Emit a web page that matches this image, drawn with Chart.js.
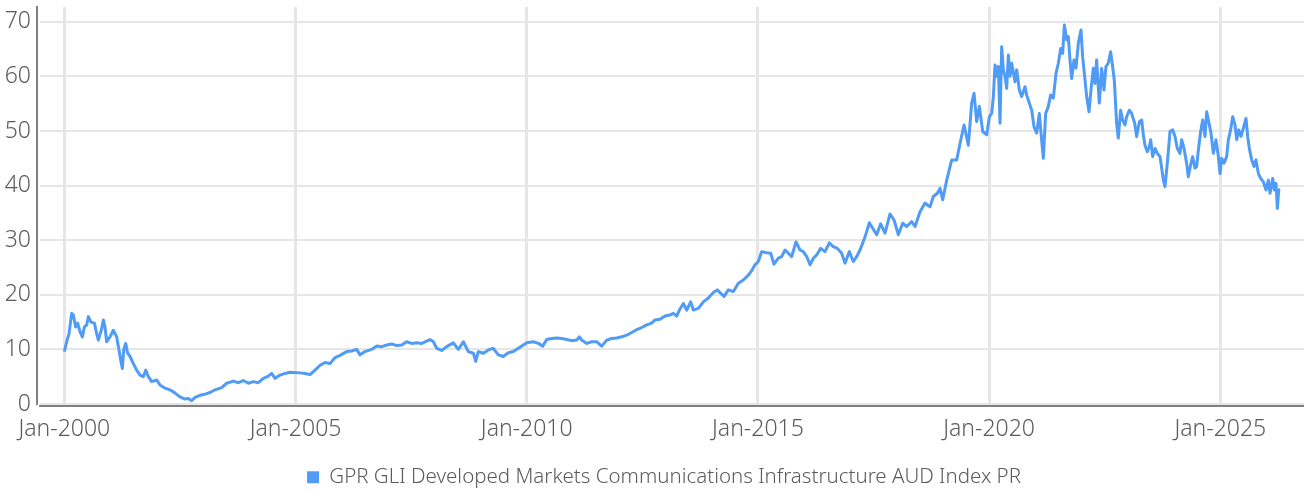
<!DOCTYPE html>
<html>
<head>
<meta charset="utf-8">
<script src="https://cdn.jsdelivr.net/npm/chart.js@4/dist/chart.umd.min.js"></script>
<style>
  html, body { margin: 0; padding: 0; background: #ffffff; }
  #wrap { width: 1304px; height: 491px; }
</style>
</head>
<body>
<div id="wrap"><canvas id="myChart"></canvas></div>
<script>
const seriesName = 'GPR GLI Developed Markets Communications Infrastructure AUD Index PR';

// decimal years and index levels
const years = [
    2000.000, 2000.051, 2000.102, 2000.159, 2000.195, 2000.246, 2000.289, 2000.340, 2000.390, 2000.433,
    2000.484, 2000.520, 2000.577, 2000.650, 2000.700, 2000.736, 2000.808, 2000.844, 2000.880, 2000.916,
    2000.988, 2001.060, 2001.132, 2001.183, 2001.226, 2001.255, 2001.284, 2001.327, 2001.370, 2001.421,
    2001.493, 2001.565, 2001.637, 2001.709, 2001.760, 2001.817, 2001.889, 2001.997, 2002.069, 2002.178,
    2002.286, 2002.394, 2002.502, 2002.610, 2002.682, 2002.754, 2002.826, 2002.935, 2003.043, 2003.151,
    2003.259, 2003.403, 2003.511, 2003.655, 2003.764, 2003.872, 2003.980, 2004.088, 2004.196, 2004.304,
    2004.412, 2004.485, 2004.557, 2004.665, 2004.773, 2004.881,
    2005.097, 2005.205, 2005.314, 2005.422, 2005.530, 2005.638, 2005.746, 2005.855, 2005.963, 2006.107,
    2006.215, 2006.323, 2006.395, 2006.503, 2006.647, 2006.755, 2006.864, 2006.972, 2007.080, 2007.188,
    2007.296, 2007.404, 2007.512, 2007.620, 2007.729, 2007.837, 2007.909, 2007.981, 2008.053, 2008.161,
    2008.269, 2008.413, 2008.521, 2008.630, 2008.738, 2008.846, 2008.896, 2008.954, 2009.062, 2009.170,
    2009.278, 2009.386, 2009.494, 2009.603, 2009.711, 2009.819, 2009.927,
    2010.000, 2010.144, 2010.252, 2010.346, 2010.432, 2010.540, 2010.648, 2010.757, 2010.865, 2010.973,
    2011.081, 2011.138, 2011.189, 2011.297, 2011.405, 2011.513, 2011.622, 2011.730, 2011.838, 2011.946,
    2012.054, 2012.162, 2012.270, 2012.378, 2012.487, 2012.595, 2012.703, 2012.775, 2012.883, 2012.991,
    2013.099, 2013.172, 2013.244, 2013.301, 2013.388, 2013.460, 2013.546, 2013.604, 2013.712, 2013.820,
    2013.929, 2014.037, 2014.123, 2014.181, 2014.268, 2014.361, 2014.469, 2014.577, 2014.685, 2014.793,
    2014.865, 2014.937,
    2015.009, 2015.081, 2015.189, 2015.276, 2015.348, 2015.442, 2015.514, 2015.586, 2015.658, 2015.730,
    2015.824, 2015.910, 2015.982, 2016.055, 2016.127, 2016.199, 2016.271, 2016.357, 2016.451, 2016.545,
    2016.631, 2016.718, 2016.811, 2016.883, 2016.977, 2017.064, 2017.136, 2017.208, 2017.317, 2017.410,
    2017.482, 2017.569, 2017.655, 2017.749, 2017.857, 2017.944, 2018.037, 2018.131, 2018.218, 2018.326,
    2018.398, 2018.506, 2018.614, 2018.722, 2018.794, 2018.881, 2018.939, 2018.996, 2019.083, 2019.191,
    2019.299, 2019.371, 2019.458, 2019.551, 2019.623, 2019.674, 2019.731, 2019.789, 2019.861, 2019.948,
    2020.005, 2020.056, 2020.092, 2020.128, 2020.164, 2020.200, 2020.236, 2020.272, 2020.308, 2020.344,
    2020.380, 2020.416, 2020.452, 2020.488, 2020.560, 2020.596, 2020.654, 2020.704, 2020.776, 2020.812,
    2020.870, 2020.921, 2020.971, 2021.029, 2021.086, 2021.122, 2021.173, 2021.223, 2021.281, 2021.331,
    2021.389, 2021.447, 2021.497, 2021.548, 2021.591, 2021.627, 2021.677, 2021.713, 2021.749, 2021.785,
    2021.836, 2021.879, 2021.930, 2021.987, 2022.023, 2022.059, 2022.110, 2022.160, 2022.203, 2022.254,
    2022.290, 2022.326, 2022.383, 2022.434, 2022.484, 2022.527, 2022.578, 2022.628, 2022.671, 2022.707,
    2022.758, 2022.794, 2022.844, 2022.887, 2022.938, 2022.974, 2023.032, 2023.082,
    2023.148, 2023.191, 2023.249, 2023.299, 2023.335, 2023.371, 2023.422, 2023.465, 2023.494, 2023.537,
    2023.588, 2023.638, 2023.696, 2023.732, 2023.768, 2023.804, 2023.840, 2023.876, 2023.912, 2023.970,
    2024.020, 2024.071, 2024.128, 2024.164, 2024.215, 2024.272, 2024.308, 2024.359, 2024.402, 2024.453,
    2024.489, 2024.525, 2024.575, 2024.619, 2024.669, 2024.705, 2024.756, 2024.799, 2024.849, 2024.907,
    2024.958, 2024.994, 2025.030, 2025.080, 2025.138, 2025.174, 2025.224, 2025.268, 2025.318, 2025.354,
    2025.398, 2025.448, 2025.498, 2025.556, 2025.592, 2025.628, 2025.679, 2025.729, 2025.772, 2025.823,
    2025.873, 2025.931, 2025.989, 2026.039, 2026.075, 2026.133, 2026.169, 2026.205, 2026.234, 2026.263,
    2026.292
];

const values = [
    9.6, 11.4, 12.9, 16.6, 16.3, 14.1, 14.8, 13.2, 12.3, 14.1,
    14.5, 16.0, 15.0, 14.8, 12.9, 11.7, 13.8, 15.4, 14.1, 11.4,
    12.3, 13.5, 12.3, 9.9, 7.7, 6.5, 9.9, 11.1, 9.3, 8.7,
    7.4, 6.2, 5.3, 5.0, 6.2, 5.0, 4.1, 4.4, 3.5, 2.9,
    2.6, 2.0, 1.3, 0.9, 1.0, 0.6, 1.2, 1.6, 1.8, 2.1,
    2.6, 3.0, 3.8, 4.2, 3.9, 4.3, 3.8, 4.1, 3.9, 4.7,
    5.1, 5.6, 4.7, 5.3, 5.6, 5.8,
    5.7, 5.6, 5.4, 6.2, 7.1, 7.6, 7.4, 8.5, 8.9, 9.6,
    9.7, 10.0, 9.0, 9.6, 10.0, 10.6, 10.5, 10.8, 11.0, 10.7,
    10.8, 11.4, 11.1, 11.2, 11.1, 11.5, 11.8, 11.4, 10.2, 9.8,
    10.5, 11.2, 10.0, 11.4, 9.6, 9.3, 7.8, 9.6, 9.3, 9.9,
    10.2, 9.0, 8.7, 9.4, 9.6, 10.2, 10.8,
    11.2, 11.4, 11.1, 10.6, 11.8, 12.0, 12.1, 12.0, 11.8, 11.6,
    11.7, 12.3, 11.7, 11.1, 11.4, 11.4, 10.6, 11.7, 12.0, 12.1,
    12.3, 12.6, 13.1, 13.6, 14.0, 14.5, 14.8, 15.4, 15.5, 16.1,
    16.3, 16.6, 16.1, 17.2, 18.4, 17.2, 18.7, 17.2, 17.5, 18.7,
    19.4, 20.4, 20.9, 20.4, 19.7, 20.9, 20.6, 22.1, 22.7, 23.6,
    24.4, 25.5,
    26.1, 27.9, 27.7, 27.6, 25.6, 26.7, 27.0, 28.2, 27.6, 27.0,
    29.7, 28.2, 27.9, 27.0, 25.5, 26.7, 27.3, 28.5, 27.9, 29.5,
    28.8, 28.5, 27.6, 25.8, 27.9, 26.1, 27.0, 28.2, 30.6, 33.2,
    32.2, 31.0, 33.0, 31.3, 34.8, 33.7, 31.0, 33.1, 32.5, 33.4,
    32.5, 35.2, 36.8, 36.1, 38.0, 38.6, 39.5, 37.4, 41.0, 44.7,
    44.7, 47.7, 51.1, 47.4, 55.1, 56.9, 51.7, 54.5, 49.9, 49.3,
    52.6, 53.2, 56.3, 62.1, 60.0, 61.8, 51.4, 65.4, 61.2, 60.0,
    57.8, 63.9, 60.0, 62.4, 59.0, 61.2, 57.5, 56.3, 58.1, 56.6,
    55.1, 53.8, 50.8, 49.6, 53.2, 49.6, 45.0, 53.2, 54.5, 56.6,
    56.0, 60.6, 62.4, 65.1, 64.2, 69.4, 66.7, 67.3, 63.0, 59.6,
    63.0, 61.5, 66.1, 68.5, 63.6, 60.6, 56.3, 53.5, 57.5, 61.5,
    58.7, 63.0, 55.1, 61.5, 57.5, 61.8, 62.4, 64.5, 61.8, 59.3,
    51.4, 48.7, 53.8, 52.0, 51.1, 52.6, 53.8, 53.2,
    51.4, 49.0, 51.7, 52.0, 49.3, 47.4, 46.2, 47.1, 48.4, 45.3,
    46.8, 45.9, 45.3, 43.2, 41.0, 39.8, 42.9, 46.2, 49.9, 50.2,
    49.0, 46.8, 45.9, 48.4, 46.8, 44.1, 41.6, 43.8, 45.3, 43.2,
    43.5, 46.5, 49.9, 52.0, 49.0, 53.5, 51.4, 49.6, 45.9, 48.4,
    45.3, 42.2, 45.0, 44.1, 45.3, 48.4, 50.2, 52.6, 51.1, 48.4,
    50.2, 49.0, 50.5, 52.3, 49.0, 46.8, 44.7, 43.5, 44.7, 42.2,
    41.3, 40.7, 39.2, 41.0, 38.6, 41.3, 39.2, 40.4, 35.8, 39.2,
    39.3
];

const xTickYears = [2000, 2005, 2010, 2015, 2020, 2025];
const xTickLabels = ['Jan-2000', 'Jan-2005', 'Jan-2010', 'Jan-2015', 'Jan-2020', 'Jan-2025'];
const yTicks = [0, 10, 20, 30, 40, 50, 60, 70];

const fontFamily = "'Noto Sans', 'DejaVu Sans', sans-serif";
const tickFont = { family: fontFamily, size: 23, weight: '300' };
const legendFont = { family: fontFamily, size: 20.5, weight: '300' };
const textGrey = '#5b5b5b';
const lineBlue = '#4f9bf6';

// axis lines sit a little off the plot edges, like the original
const axisLines = {
    id: 'axisLines',
    afterLayout(chart) {
        // legend sits a bit left of the plot centre in the original
        chart.legend.left -= 8;
        chart.legend.right -= 8;
    },
    afterDraw(chart) {
        const ctx = chart.ctx;
        const a = chart.chartArea;
        ctx.save();
        ctx.strokeStyle = '#808080';
        ctx.lineWidth = 2;
        ctx.beginPath();
        ctx.moveTo(a.left - 3, a.top - 1);
        ctx.lineTo(a.left - 3, a.bottom + 1);
        ctx.moveTo(a.left - 1, a.bottom + 2);
        ctx.lineTo(a.right, a.bottom + 2);
        ctx.stroke();
        ctx.restore();
    }
};

const data = {
    datasets: [{
        label: seriesName,
        data: years.map((t, i) => ({ x: t, y: values[i] })),
        borderColor: lineBlue,
        backgroundColor: lineBlue,
        borderWidth: 3,
        pointRadius: 0,
        tension: 0,
        borderJoinStyle: 'round'
    }]
};

const config = {
    type: 'line',
    data: data,
    plugins: [axisLines],
    options: {
        responsive: true,
        maintainAspectRatio: false,
        animation: false,
        layout: {
            padding: { top: 7, right: 0, bottom: 0, left: 0 }
        },
        plugins: {
            tooltip: { enabled: false },
            legend: {
                position: 'bottom',
                fullSize: false,
                maxHeight: 24,
                labels: {
                    color: textGrey,
                    font: legendFont,
                    boxWidth: 12,
                    boxHeight: 12,
                    padding: 0,
                    generateLabels: chart => Chart.defaults.plugins.legend.labels.generateLabels(chart)
                        .map(l => Object.assign(l, { lineWidth: 0 }))
                }
            }
        },
        scales: {
            x: {
                type: 'linear',
                min: 1999.474,
                max: 2026.81,
                afterBuildTicks: s => { s.ticks = xTickYears.map(v => ({ value: v })); },
                afterFit: s => {
                    s.height = 63;
                    s.paddingLeft = 0;
                    s.paddingRight = 0;
                },
                grid: { color: '#e6e6e6', lineWidth: 3, drawTicks: false },
                border: { display: false },
                ticks: {
                    color: textGrey,
                    font: tickFont,
                    padding: 12,
                    maxRotation: 0,
                    autoSkip: false,
                    callback: v => xTickLabels[xTickYears.indexOf(v)]
                }
            },
            y: {
                type: 'linear',
                min: 0,
                max: 72.7,
                afterBuildTicks: s => { s.ticks = yTicks.map(v => ({ value: v })); },
                afterFit: s => {
                    s.width = 40;
                    s.paddingTop = 0;
                    s.paddingBottom = 0;
                },
                grid: { color: '#e6e6e6', lineWidth: 2, drawTicks: false },
                border: { display: false },
                ticks: {
                    color: textGrey,
                    font: tickFont,
                    padding: 9
                }
            }
        }
    }
};

myChart = new Chart(document.getElementById('myChart'), config);
</script>
</body>
</html>
